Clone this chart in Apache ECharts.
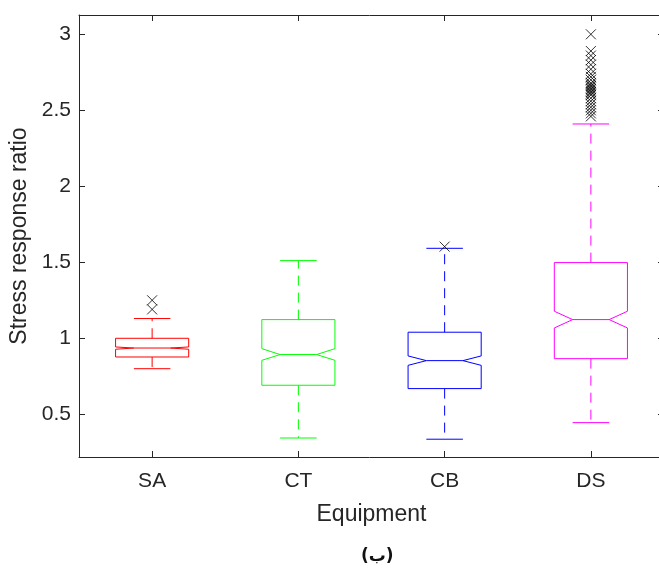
<!DOCTYPE html>
<html><head><meta charset="utf-8">
<script src="https://cdn.jsdelivr.net/npm/echarts@6/dist/echarts.min.js"></script>
<style>html,body{margin:0;padding:0;background:#fff;overflow:hidden}#c{width:659px;height:572px}</style>
</head><body><div id="c"></div>
<script>
const categories = ['SA', 'CT', 'CB', 'DS'];
const lowerWhisker = [0.800, 0.344, 0.336, 0.445];
const q1 = [0.877, 0.691, 0.669, 0.866];
const notchLow = [0.928, 0.855, 0.822, 1.068];
const median = [0.936, 0.893, 0.853, 1.123];
const notchHigh = [0.943, 0.932, 0.884, 1.178];
const q3 = [1.000, 1.123, 1.040, 1.498];
const upperWhisker = [1.130, 1.511, 1.592, 2.410];
const outliersSA = [1.250, 1.190];
const outliersCT = [];
const outliersCB = [1.603];
const outliersDS = [3.00, 2.89, 2.86, 2.83, 2.80, 2.77, 2.74, 2.72, 2.70, 2.68, 2.67, 2.66, 2.65, 2.64, 2.63, 2.62, 2.61, 2.60, 2.58, 2.56, 2.54, 2.52, 2.50, 2.48, 2.46];
const yTicks = [0.5, 1, 1.5, 2, 2.5, 3];
const xLabel = 'Equipment';
const yLabel = 'Stress response ratio';
const caption = '(ب)';

const colors = ['#ff0000', '#00ff00', '#0000ff', '#ff00ff'];
const axisColor = '#262626';

const boxData = categories.map((c, i) => [i, lowerWhisker[i], q1[i], notchLow[i], median[i], notchHigh[i], q3[i], upperWhisker[i]]);
const outlierData = [];
[outliersSA, outliersCT, outliersCB, outliersDS].forEach((arr, i) => arr.forEach(v => outlierData.push([i, v])));

function renderBox(params, api) {
  const i = api.value(0);
  const band = api.size([1, 0])[0];
  const half = band * 0.25;
  const inset = half * 0.5;
  const capHalf = half * 0.5;
  const x = api.coord([i, api.value(4)])[0];
  const y = v => api.coord([i, v])[1];
  const yLw = y(api.value(1)), yQ1 = y(api.value(2)), yNl = y(api.value(3)), yMed = y(api.value(4)),
        yNh = y(api.value(5)), yQ3 = y(api.value(6)), yUw = y(api.value(7));
  const col = colors[i];
  const solid = { stroke: col, lineWidth: 1, fill: null };
  const dashed = { stroke: col, lineWidth: 1, fill: null, lineDash: [10, 7] };
  return {
    type: 'group',
    children: [
      { type: 'line', shape: { x1: x, y1: yQ3, x2: x, y2: yUw }, style: dashed },
      { type: 'line', shape: { x1: x, y1: yQ1, x2: x, y2: yLw }, style: dashed },
      { type: 'line', shape: { x1: x - capHalf, y1: yUw, x2: x + capHalf, y2: yUw }, style: solid },
      { type: 'line', shape: { x1: x - capHalf, y1: yLw, x2: x + capHalf, y2: yLw }, style: solid },
      { type: 'polygon', shape: { points: [
          [x - half, yQ3], [x + half, yQ3], [x + half, yNh], [x + half - inset, yMed], [x + half, yNl],
          [x + half, yQ1], [x - half, yQ1], [x - half, yNl], [x - half + inset, yMed], [x - half, yNh]
        ] }, style: solid },
      { type: 'line', shape: { x1: x - half + inset, y1: yMed, x2: x + half - inset, y2: yMed }, style: solid }
    ]
  };
}

const chart = echarts.init(document.getElementById('c'), null, { renderer: 'canvas' });
const tickFont = { fontFamily: 'Liberation Sans', fontSize: 21, color: axisColor };
chart.setOption({
  animation: false,
  backgroundColor: '#ffffff',
  grid: { left: 79, top: 15, width: 585, height: 442, containLabel: false, outerBoundsMode: 'none' },
  xAxis: [
    {
      type: 'category', data: categories, position: 'bottom',
      boundaryGap: true,
      axisLine: { show: true, lineStyle: { color: axisColor, width: 1 } },
      axisTick: { show: true, inside: true, length: 6, alignWithLabel: true, lineStyle: { color: axisColor } },
      axisLabel: Object.assign({ margin: 14 }, tickFont),
      splitLine: { show: false },
      name: xLabel, nameLocation: 'middle', nameGap: 46,
      nameTextStyle: { fontFamily: 'Liberation Sans', fontSize: 23, color: axisColor }
    },
    {
      type: 'category', data: categories, position: 'top',
      boundaryGap: true,
      axisLine: { show: true, lineStyle: { color: axisColor, width: 1 } },
      axisTick: { show: true, inside: true, length: 6, alignWithLabel: true, lineStyle: { color: axisColor } },
      axisLabel: { show: false },
      splitLine: { show: false }
    }
  ],
  yAxis: [
    {
      type: 'value', min: 0.219, max: 3.127, position: 'left',
      axisLine: { show: true, lineStyle: { color: axisColor, width: 1 } },
      axisTick: { show: true, inside: true, length: 6, customValues: yTicks, lineStyle: { color: axisColor } },
      axisLabel: Object.assign({ margin: 8, customValues: yTicks, formatter: v => String(v) }, tickFont),
      splitLine: { show: false },
      name: yLabel, nameLocation: 'middle', nameGap: 47,
      nameTextStyle: { fontFamily: 'Liberation Sans', fontSize: 23, color: axisColor }
    },
    {
      type: 'value', min: 0.219, max: 3.127, position: 'right',
      axisLine: { show: false },
      axisTick: { show: true, inside: true, length: 6, customValues: yTicks, lineStyle: { color: axisColor } },
      axisLabel: { show: false },
      splitLine: { show: false }
    }
  ],
  graphic: [
    { type: 'text', left: 361, top: 548,
      style: { text: caption, fontFamily: 'DejaVu Sans', fontSize: 17, fontWeight: 'bold', fill: '#111' } }
  ],
  series: [
    {
      type: 'custom', name: 'box', xAxisIndex: 0, yAxisIndex: 0,
      renderItem: renderBox,
      encode: { x: 0, y: [1, 2, 3, 4, 5, 6, 7] },
      data: boxData, clip: false, z: 2
    },
    {
      type: 'scatter', name: 'outliers', xAxisIndex: 0, yAxisIndex: 0,
      symbol: 'path://M0,0L10,10M10,0L0,10', symbolSize: 10,
      itemStyle: { color: 'rgba(0,0,0,0)', borderColor: '#000', borderWidth: 1 },
      data: outlierData, z: 3
    }
  ]
});
</script></body></html>
